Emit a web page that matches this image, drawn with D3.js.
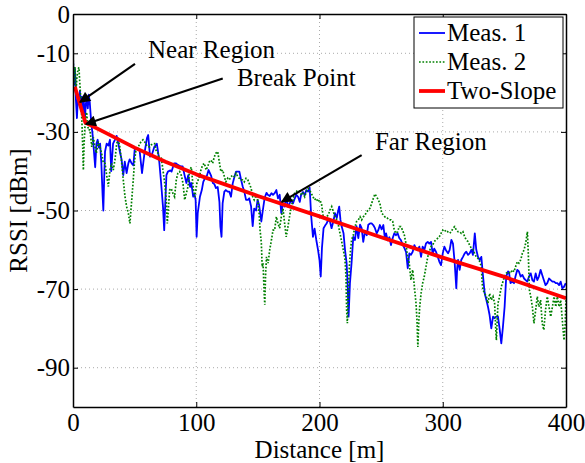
<!DOCTYPE html>
<html>
<head>
<meta charset="utf-8">
<script src="https://cdn.jsdelivr.net/npm/d3@7"></script>
<style>
  body { margin: 0; background: #fff; }
  text { font-family: "Liberation Serif", "Times New Roman", serif; }
</style>
</head>
<body>
<div id="chart"></div>
<script>
// Data: [distance in m, RSSI in dBm]
var meas1 = [[0,-11],[0.8,-18],[1.6,-14],[2.4,-22],[3.2,-26.5],[4,-21],[4.8,-23],[5.6,-19.5],[6.4,-24],[7.2,-21],[8,-25],[8.8,-22],[9.6,-27],[10.4,-23],[11.2,-21],[12,-24],[12.8,-20.5],[13.6,-22.5],[14.4,-26],[15.2,-28.7],[16,-31],[17,-35],[18,-39],[19,-33],[20,-32],[21,-34],[22,-33],[23,-38],[24,-46],[24.6,-50],[25.3,-42],[26,-35],[27.3,-33],[28.7,-33.5],[30,-32],[31,-40],[32.5,-33],[34,-32],[35.4,-31],[36.8,-33],[38,-35],[39.4,-37],[40.8,-41],[42,-37.6],[43.5,-40.5],[44.9,-38],[46,-37],[47.6,-38],[49,-38.5],
  [50,-34.6],[52,-34.2],[54,-34.6],[56,-40.5],[58,-35.4],[60,-31.6],[61,-30.8],[62.5,-36.3],[64,-35.8],[66,-33.8],[68,-33],[69,-35],[70,-37.6],[71.5,-43],[73,-49],[74,-55],[75,-47],[75.8,-41],[77,-40.1],[79,-39.8],[80,-40.1],[82,-38],[83.6,-38],[85,-38.4],[87.6,-38.8],[89,-38.8],[90.5,-41],[92,-43],[93.5,-41],[95,-44],[96,-43],[97.5,-46.5],[98.5,-45.8],[99.5,-47.3],
  [100.3,-56.7],[101.2,-50.7],[103,-46.5],[104.5,-44.8],[105.7,-42.7],[107,-41.8],[108.7,-41.1],[110,-39.7],[112,-41.1],[113.5,-43],[114.7,-43.3],[116,-44.3],[117.4,-44],[118.8,-47.8],[119.6,-54.1],[120.5,-56.7],[121.4,-48.2],[122.8,-45.2],[124,-44.8],[125.5,-45.2],[126.8,-45.2],[128.2,-46.5],[129.6,-43.1],[131,-41.4],[132.3,-40.1],[133.7,-40.1],[135,-40.1],[136.4,-42.2],[137.7,-43.9],[139,-45.2],[140.4,-47.3],[141.8,-47.3],[143,-46.9],[144.5,-49],[145.8,-54],[147,-49.5],[148.5,-50],[149.8,-47.3],
  [151,-48.6],[152.8,-52.8],[154,-50],[155.5,-46.8],[157,-45.5],[158,-46],[159.6,-46.3],[161,-45.6],[162.3,-46],[163.6,-45.6],[165,-44.8],[166.3,-46.9],[167.7,-46],[169,-50.7],[170.4,-48.2],[171.8,-49],[173,-46.5],[174.4,-49],[175.8,-48.2],[177,-47.3],[178.5,-48.2],[180,-46.9],[181.2,-46],[182.6,-46.5],[184,-47.8],[185,-46.1],[186.6,-45.3],[188,-46.1],[189.3,-44.8],[190.7,-45.2],[192,-44.2],[193.3,-51.6],[194.7,-56.7],[196,-54.6],[197.4,-57.5],[198.8,-60],
  [200,-62.6],[201,-66.8],[202,-59.5],[203.3,-54.5],[205,-53.6],[205.8,-53.3],[207,-52.4],[208.5,-52.8],[209.8,-54.5],[211.2,-52.8],[212.6,-50.7],[214,-51.9],[215,-50.3],[216,-49],[217,-52.4],[218,-54.1],[219.5,-55.8],[220.7,-60],[222,-63.4],[222.8,-68.5],[223.6,-77],[224.7,-68.5],[226,-63.4],[227.4,-56.7],[228.8,-57.5],[230,-54],[231.5,-57],[232.9,-53.6],[234.2,-54.5],[235.5,-58],[237,-55.2],[238.3,-56.3],[239.6,-53.6],[241,-53.3],[242.3,-53.3],[243.6,-53.7],[245,-54.5],[246.4,-55.8],[247.7,-55],[249,-53.7],
  [250.4,-54.8],[251.8,-53.7],[253,-57],[254,-55.8],[255.3,-57.6],[256.7,-56.8],[258,-58.8],[259.4,-57],[260.7,-55.8],[262,-56.3],[263.4,-55.8],[264.7,-57],[266,-57.5],[267.4,-58.6],[268.8,-59.5],[270.2,-60.5],[271.6,-64.7],[272.9,-60.9],[274.2,-61.3],[275.6,-60.5],[277,-58.8],[278.3,-59.7],[279.7,-60.1],[281,-59.2],[282.4,-61.8],[283.7,-59.2],[285,-60.1],[286.4,-58.4],[287.8,-58],[289.1,-58.4],[290.5,-58],[291.8,-61],[293.1,-59.7],[294.5,-60.5],[296,-61.8],[297.2,-63],[298.6,-63.9],
  [300,-60.9],[301.3,-59.2],[302.6,-60.1],[304.3,-60.9],[305.6,-60],[307,-57.5],[308.3,-58.4],[309.7,-63.4],[311,-69.8],[311.7,-64.7],[312.4,-62.6],[313.7,-65.1],[315,-62.6],[316.4,-61.8],[317.8,-60.9],[319.1,-60.5],[320.5,-61.3],[321.8,-60.9],[323.2,-60],[324.5,-61.3],[326,-55.8],[327.2,-60],[328.6,-61.8],[330,-62.6],[331.3,-61.8],[332.7,-66.8],[334,-71],[335.4,-72.8],[336.7,-74.5],[338,-76.6],[339.4,-80],[340.8,-77],[342,-77.4],[343.5,-77],[344.8,-77],[346.1,-80],[347.5,-83.8],[348.8,-79.7],
  [350.2,-74.5],[351.5,-66.8],[353,-65.5],[353.7,-65.7],[355,-68.5],[356.4,-68.1],[357.8,-68.5],[359,-66.8],[360.5,-65.1],[361.8,-65.5],[363.2,-66.8],[364.6,-66.4],[366,-67.3],[367.3,-67.7],[368.6,-68.1],[370,-66.8],[371.4,-66],[372.7,-67.7],[374,-68.1],[375.4,-66],[376.7,-67.7],[378,-66.8],[379.4,-65.1],[380.7,-66.4],[382,-67.7],[383.4,-69],[384.8,-68.5],[386.2,-67.3],[387.6,-67.7],[389,-68.1],[390.3,-68.1],[391.7,-68.5],[393,-68.5],[394.4,-69],[395.7,-68.1],[397,-69.8],[398.4,-69.4],[399.8,-68.5]];

var meas2 = [[0,-10],[0.8,-18],[1.6,-13.5],[2.4,-20],[3.2,-16],[4,-14.2],[4.8,-13.6],[5.6,-18],[6.4,-22],[7.2,-27],[8,-35],[8.4,-39.7],[9,-33],[9.7,-28.7],[11,-25],[12.4,-29.5],[13.8,-29.5],[15.2,-33.8],[16.5,-31.4],[17.8,-33.8],[19,-35.4],[20.5,-32.5],[21.9,-33.8],[23.2,-35.4],[24.6,-37.9],[26,-38],[27.3,-41],[28.7,-43.9],[30,-39.7],[31.3,-38],[32.7,-39.7],[34,-37.2],[35.5,-32.9],[36.8,-32],[38,-33.8],[39.4,-37.6],[40.8,-42.2],[42.2,-46.5],[43.5,-49],[44.9,-50.7],[46.2,-53.3],[47.6,-47.5],[48.7,-43],
  [50,-37.2],[51.4,-33.8],[52.7,-34.2],[54,-33],[55.4,-32.5],[56.8,-32],[58.1,-32.5],[59.5,-33.3],[60.8,-33.8],[62.2,-33.8],[63.5,-33.3],[65,-33],[66.3,-33],[67.6,-35],[69,-35.4],[70.3,-37.2],[71.7,-36.8],[73,-39.7],[74.4,-43],[75.7,-47.3],[76.5,-53.3],[77.3,-50],[78.4,-44.8],[79.7,-44.4],[81,-45.6],[82.4,-46.5],[83.8,-42.2],[85.1,-40.5],[86.5,-40.1],[87.8,-41],[89.2,-43],[90.6,-47.3],[92,-45.6],[93.3,-43.9],[94.7,-39.7],[96,-39],[97.4,-43.9],[98.8,-46.5],
  [100.5,-43.1],[102.5,-41.4],[103.8,-39.7],[105.2,-38.4],[106.6,-38],[108,-39.7],[109.3,-38.8],[110.6,-37.6],[112,-37.2],[113.3,-38],[114.7,-36.3],[116,-35.4],[117.4,-35],[118.7,-37.6],[120,-40.1],[121.5,-39.7],[122.8,-41.4],[124,-42.7],[125.5,-41.8],[126.8,-42.2],[128.2,-41.4],[129.6,-41],[131,-41.4],[132.3,-40.5],[133.7,-41.4],[135,-41.8],[136.4,-42.2],[137.7,-42.2],[139,-42.7],[140.4,-41.8],[141.8,-42.2],[143,-43.1],[144.5,-44.3],[145.8,-46.5],[147,-47.3],[148.5,-46.1],[149.8,-47.3],
  [151,-50.7],[151.8,-55],[152.8,-58.3],[153.5,-64.3],[154.2,-63.4],[155,-70.2],[155.6,-74],[156.2,-66.8],[157,-61.8],[158.3,-63.4],[159.6,-60],[161,-57.5],[162.3,-55],[163.6,-55],[165,-51.6],[166.3,-53.3],[167.7,-54.5],[169,-51.6],[170.4,-49.5],[171.7,-53.3],[173,-56.7],[174.4,-54.1],[175.8,-51.3],[177.1,-49],[178.5,-47.3],[179.8,-45.6],[181.2,-45.2],[182.5,-44.8],[184,-45.2],[185.3,-46.1],[186.6,-45.6],[188,-46.5],[189.3,-45.2],[190.7,-44.4],[192,-44.8],[193.3,-45.6],[194.7,-46.5],[196,-47.3],[197.4,-46.9],[198.8,-47.8],
  [200.2,-47.3],[201.6,-48.2],[203,-51.6],[204.4,-52.4],[205.8,-51.6],[207.2,-51.1],[208.5,-49.9],[209.9,-49],[211.2,-50.3],[212.6,-51.6],[214,-52.4],[215.3,-53.7],[216.6,-55.8],[218,-57.9],[219.3,-60],[220.6,-62.2],[221.5,-66.8],[222,-75.3],[222.6,-78.7],[223.4,-71.9],[224.2,-64.3],[225.2,-60],[226,-57.5],[227.4,-56.3],[228.8,-54.1],[230.1,-52.8],[231.5,-52.4],[232.9,-51.6],[234.2,-52.4],[235.6,-51.6],[237,-51.1],[238.3,-50.3],[239.6,-49.9],[241,-49.4],[242.3,-48.2],[243.7,-46.9],[245,-45.8],[246.4,-46.5],[247.7,-47.3],[249,-48.2],
  [250.5,-50.7],[251.8,-51.1],[253,-51.6],[254,-51.6],[255.3,-52],[256.7,-52.4],[258,-52.4],[259.4,-52.8],[260.7,-55],[262,-55.8],[263.4,-55.4],[264.7,-54.1],[266,-54.1],[267.4,-55],[268.8,-56.2],[270.1,-58.3],[271.5,-61.8],[272.8,-63.4],[274.2,-67.7],[275.6,-65.1],[277,-69.4],[278.3,-73.6],[279.1,-77.9],[279.8,-84.7],[280.5,-78.7],[281.3,-74.5],[282.4,-71.1],[283.7,-68.5],[285,-66.8],[286.4,-64.3],[287.8,-61.8],[289.1,-60.5],[290.5,-59.2],[291.8,-58.8],[293.1,-57.9],[294.5,-57.5],[295.8,-57.1],[297.2,-56.7],[298.6,-55.8],
  [300,-55],[301.3,-55.4],[302.6,-55],[304,-55.4],[305.6,-55.8],[307,-55.4],[308.3,-54.5],[309.7,-54.1],[311,-55],[312.4,-55.4],[313.7,-55.4],[315,-55.8],[316.4,-55.4],[317.8,-56.7],[319.1,-57.5],[320.5,-57.9],[321.8,-58.8],[323.2,-59.6],[324.5,-60],[325.9,-60.9],[327.2,-61.8],[328.6,-62.2],[330,-63],[331.3,-64.3],[332,-68.5],[332.7,-70.2],[334,-71.1],[335.4,-71.9],[336.7,-73.6],[338,-71.1],[339.4,-72.8],[340.8,-71.9],[342.1,-73.6],[342.9,-79.6],[343.5,-83],[344.2,-77.9],[344.8,-73.6],[346.1,-71.9],[347.5,-69.4],[348.8,-68.1],
  [350.2,-66.8],[351.5,-66],[352.9,-65.6],[355,-66],[356.4,-65.1],[357.8,-65.6],[359.1,-64.3],[360.5,-63],[361.8,-63.4],[363.2,-62.6],[364.6,-60.9],[366,-60],[367.3,-58.3],[368.7,-55.4],[369.5,-61.8],[370.3,-70.2],[371.4,-71.9],[372.7,-74.5],[374,-78.7],[375.4,-75.3],[376.7,-71.9],[378,-74.5],[379.4,-72.8],[380.7,-78.7],[382,-80.4],[383.4,-75.3],[384.8,-71.9],[386.2,-74.5],[387.6,-77],[389,-74.5],[390.3,-71.9],[391.7,-74.5],[393,-71.9],[394.4,-74.5],[395.7,-72.8],[397,-77.9],[398.4,-83],[399.4,-78.7],[400,-71.9]];

var twoSlope = [[1.5,-18.5],[10,-27.6],[25,-30],[50,-34],[75,-37.6],[100,-40.8],[150,-46.3],[200,-51.5],[250,-56.8],[300,-62],[350,-66.9],[400,-72.3]];

var xTicks = [0, 100, 200, 300, 400];
var yTicks = [0, -10, -30, -50, -70, -90];
var yGrid = [-10, -30, -50, -70, -90];

var seriesNames = ["Meas. 1", "Meas. 2", "Two-Slope"];

// annotations: label anchor and arrow tail/tip in data units
var notes = [
  { text: "Near Region", tx: 60.9, ty: -11.2, x1: 50.3, y1: -12.7, x2: 5.7, y2: -22.4 },
  { text: "Break Point", tx: 133, ty: -18.3, x1: 121.5, y1: -16.4, x2: 10.5, y2: -28 },
  { text: "Far Region", tx: 245, ty: -34.6, x1: 234.2, y1: -35.9, x2: 169.3, y2: -47.8 }
];

// Set the dimensions for the SVG Container and Parameters
var svgWidth = 585;
var svgHeight = 463;
var margin = { top: 14, right: 19, bottom: 56, left: 73 };
var width = svgWidth - margin.left - margin.right;
var height = svgHeight - margin.top - margin.bottom;

var fontSize = "25px";

var svg = d3.select("#chart")
  .append("svg")
  .attr("width", svgWidth)
  .attr("height", svgHeight);

var chartGroup = svg.append("g")
  .attr("transform", `translate(${margin.left}, ${margin.top})`);

var xScale = d3.scaleLinear().domain([0, 400]).range([0, width]);
var yScale = d3.scaleLinear().domain([-100, 0]).range([height, 0]);

// grid lines
chartGroup.selectAll(".xgrid")
  .data(xTicks.slice(1, -1))
  .enter().append("line")
  .attr("x1", d => xScale(d)).attr("x2", d => xScale(d))
  .attr("y1", 0).attr("y2", height)
  .attr("stroke", "#aaa").attr("stroke-width", 1)
  .attr("stroke-dasharray", "1,3");

chartGroup.selectAll(".ygrid")
  .data(yGrid)
  .enter().append("line")
  .attr("x1", 0).attr("x2", width)
  .attr("y1", d => yScale(d)).attr("y2", d => yScale(d))
  .attr("stroke", "#aaa").attr("stroke-width", 1)
  .attr("stroke-dasharray", "1,3");

// clip to plot area
chartGroup.append("clipPath").attr("id", "clip")
  .append("rect").attr("width", width).attr("height", height);

var line = d3.line()
  .x(d => xScale(d[0]))
  .y(d => yScale(d[1]));

var plot = chartGroup.append("g").attr("clip-path", "url(#clip)");

plot.append("path").datum(meas1)
  .attr("d", line).attr("fill", "none")
  .attr("stroke", "#0000ff").attr("stroke-width", 1.8)
  .attr("stroke-linejoin", "round");

plot.append("path").datum(meas2)
  .attr("d", line).attr("fill", "none")
  .attr("stroke", "#008000").attr("stroke-width", 1.7)
  .attr("stroke-dasharray", "1.7,1.7");

plot.append("path").datum(twoSlope)
  .attr("d", line).attr("fill", "none")
  .attr("stroke", "#ff0000").attr("stroke-width", 3.8)
  .attr("stroke-linejoin", "round");

// Axes, MATLAB style: ticks point inward
var fmt = d => String(d);

var bottomAxis = d3.axisBottom(xScale).tickValues(xTicks).tickFormat(fmt)
  .tickSizeInner(-5).tickSizeOuter(0).tickPadding(6);
var leftAxis = d3.axisLeft(yScale).tickValues(yTicks).tickFormat(fmt)
  .tickSizeInner(-5).tickSizeOuter(0).tickPadding(3);
var topAxis = d3.axisTop(xScale).tickValues(xTicks).tickFormat("")
  .tickSizeInner(-5).tickSizeOuter(0);
var rightAxis = d3.axisRight(yScale).tickValues(yTicks).tickFormat("")
  .tickSizeInner(-5).tickSizeOuter(0);

function styleAxis(g) {
  g.selectAll("path").attr("stroke", "#000").attr("stroke-width", 1.5);
  g.selectAll("line").attr("stroke", "#000").attr("stroke-width", 1);
  g.selectAll("text")
    .attr("fill", "#000")
    .style("font-family", "'Liberation Serif', 'Times New Roman', serif")
    .style("font-size", fontSize);
}

chartGroup.append("g").attr("transform", `translate(0, ${height})`).call(bottomAxis).call(styleAxis);
chartGroup.append("g").call(leftAxis).call(styleAxis);
chartGroup.append("g").call(topAxis).call(styleAxis);
chartGroup.append("g").attr("transform", `translate(${width}, 0)`).call(rightAxis).call(styleAxis);

// Axis labels
chartGroup.append("text")
  .attr("transform", `translate(${width / 2}, ${height + 51})`)
  .attr("text-anchor", "middle")
  .style("font-size", fontSize)
  .text("Distance [m]");

chartGroup.append("text")
  .attr("transform", `translate(${-46}, ${height / 2}) rotate(-90)`)
  .attr("text-anchor", "middle")
  .style("font-size", fontSize)
  .text("RSSI [dBm]");

// Annotation arrows
svg.append("defs").append("marker")
  .attr("id", "arrow")
  .attr("viewBox", "0 0 10 10")
  .attr("refX", 9).attr("refY", 5)
  .attr("markerWidth", 6).attr("markerHeight", 5)
  .attr("markerUnits", "strokeWidth")
  .attr("orient", "auto")
  .append("path").attr("d", "M0,0 L10,5 L0,10 Z").attr("fill", "#000");

notes.forEach(function(n) {
  chartGroup.append("line")
    .attr("x1", xScale(n.x1)).attr("y1", yScale(n.y1))
    .attr("x2", xScale(n.x2)).attr("y2", yScale(n.y2))
    .attr("stroke", "#000").attr("stroke-width", 2.2)
    .attr("marker-end", "url(#arrow)");
  chartGroup.append("text")
    .attr("x", xScale(n.tx)).attr("y", yScale(n.ty))
    .style("font-size", fontSize)
    .text(n.text);
});

// Legend
var legend = chartGroup.append("g")
  .attr("transform", `translate(${width - 152}, 3)`);

legend.append("rect")
  .attr("width", 149).attr("height", 91)
  .attr("fill", "#fff").attr("stroke", "#000").attr("stroke-width", 1);

var legendStyles = [
  { color: "#0000ff", w: 1.8, dash: null },
  { color: "#008000", w: 1.7, dash: "1.7,1.7" },
  { color: "#ff0000", w: 3.8, dash: null }
];

seriesNames.forEach(function(name, i) {
  var y = 16 + i * 29;
  legend.append("line")
    .attr("x1", 5).attr("x2", 31)
    .attr("y1", y).attr("y2", y)
    .attr("stroke", legendStyles[i].color)
    .attr("stroke-width", legendStyles[i].w)
    .attr("stroke-dasharray", legendStyles[i].dash);
  legend.append("text")
    .attr("x", 33).attr("y", y + 8)
    .style("font-size", fontSize)
    .text(name);
});
</script>
</body>
</html>
